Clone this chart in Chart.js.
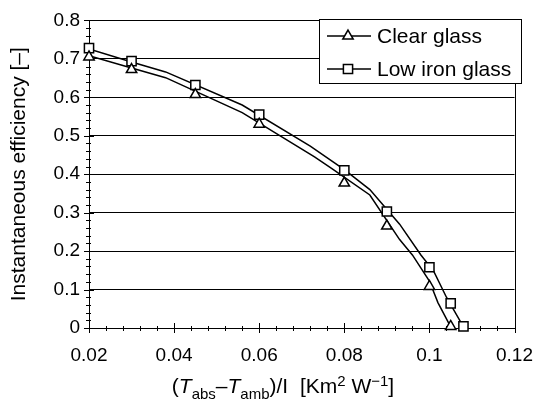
<!DOCTYPE html>
<html>
<head>
<meta charset="utf-8">
<script src="https://cdn.jsdelivr.net/npm/chart.js@4.4.1/dist/chart.umd.min.js"></script>
<style>
  html, body { margin: 0; padding: 0; background: #fff; }
</style>
</head>
<body>
<canvas id="effChart" width="549" height="401"></canvas>
<script>
// measured efficiencies (markers)
const clearX = [0.02, 0.03, 0.045, 0.06, 0.08, 0.09, 0.1, 0.105];
const clearEff = [0.705, 0.672, 0.607, 0.53, 0.377, 0.265, 0.108, 0.004];
const lowIronX = [0.02, 0.03, 0.045, 0.06, 0.08, 0.09, 0.1, 0.105, 0.108];
const lowIronEff = [0.728, 0.694, 0.632, 0.555, 0.41, 0.303, 0.158, 0.064, 0.004];

// efficiency curves (lines only)
const clearCurveX = [0.02, 0.03, 0.038, 0.056, 0.073, 0.077, 0.086, 0.093, 0.096, 0.1, 0.102, 0.105];
const clearCurveEff = [0.708, 0.676, 0.651, 0.56, 0.445, 0.415, 0.346, 0.23, 0.19, 0.122, 0.066, 0.003];
const lowIronCurveX = [0.02, 0.03, 0.038, 0.056, 0.072, 0.08, 0.086, 0.093, 0.098, 0.101, 0.104, 0.108];
const lowIronCurveEff = [0.726, 0.692, 0.666, 0.58, 0.473, 0.412, 0.36, 0.27, 0.19, 0.148, 0.08, 0.003];

const seriesNames = ['Clear glass', 'Low iron glass'];
const xTickValues = [0.02, 0.04, 0.06, 0.08, 0.1, 0.12];
const yTickValues = [0, 0.1, 0.2, 0.3, 0.4, 0.5, 0.6, 0.7, 0.8];
const yTitle = 'Instantaneous efficiency [\u2013]';
const xTitleParts = [
  { text: '(' }, { text: 'T', italic: true }, { text: 'abs', sub: true },
  { text: '\u2013' }, { text: 'T', italic: true }, { text: 'amb', sub: true },
  { text: ')/I  [Km' }, { text: '2', sup: true }, { text: ' W' },
  { text: '\u22121', sup: true }, { text: ']' }
];

const FONT = '"Liberation Sans", Arial, Helvetica, sans-serif';
Chart.defaults.font.family = FONT;
Chart.defaults.color = '#000';

function toXY(xs, ys) {
  return xs.map((x, i) => ({ x: x, y: ys[i] }));
}

// right frame line plus crossing major/minor ticks on both axes
const axisDecor = {
  id: 'axisDecor',
  beforeDatasetsDraw(chart) {
    const { ctx, chartArea: a, scales: { x, y } } = chart;
    ctx.save();
    ctx.strokeStyle = '#000';
    ctx.lineWidth = 1;
    ctx.beginPath();
    ctx.moveTo(Math.round(a.right) + 0.5, a.top);
    ctx.lineTo(Math.round(a.right) + 0.5, a.bottom);
    // y ticks every 0.02, long ones on the labelled values
    for (let i = 0; i <= 40; i++) {
      const py = Math.round(y.getPixelForValue(i * 0.02)) + 0.5;
      const major = i % 5 === 0;
      ctx.moveTo(a.left - (major ? 5 : 3), py);
      ctx.lineTo(a.left + (major ? 5 : 2), py);
    }
    // x ticks every 0.004
    for (let i = 0; i <= 25; i++) {
      const px = Math.round(x.getPixelForValue(0.02 + i * 0.004)) + 0.5;
      const major = i % 5 === 0;
      ctx.moveTo(px, a.bottom - (major ? 5 : 2));
      ctx.lineTo(px, a.bottom + (major ? 5 : 3));
    }
    ctx.stroke();
    ctx.restore();
  }
};

// boxed legend inside the plot, and the x axis title with sub/superscripts
const legendAndTitle = {
  id: 'legendAndTitle',
  afterDraw(chart) {
    const { ctx } = chart;
    ctx.save();

    const box = { left: 319, top: 19, width: 202, height: 64 };
    ctx.fillStyle = '#fff';
    ctx.fillRect(box.left, box.top, box.width, box.height);
    ctx.strokeStyle = '#000';
    ctx.lineWidth = 1;
    ctx.strokeRect(box.left + 0.5, box.top + 0.5, box.width, box.height);

    const styles = [chart.data.datasets[0], chart.data.datasets[1]];
    styles.forEach((ds, i) => {
      const yy = box.top + 17 + i * 33;
      ctx.strokeStyle = '#000';
      ctx.lineWidth = 1.5;
      ctx.beginPath();
      ctx.moveTo(box.left + 8, yy);
      ctx.lineTo(box.left + 52, yy);
      ctx.stroke();
      ctx.fillStyle = '#fff';
      ctx.strokeStyle = '#000';
      ctx.lineWidth = ds.pointBorderWidth;
      Chart.helpers.drawPoint(ctx, {
        pointStyle: ds.pointStyle, radius: ds.pointRadius, rotation: 0,
        borderWidth: ds.pointBorderWidth
      }, box.left + 29, yy);
      ctx.fillStyle = '#000';
      ctx.font = '21px ' + FONT;
      ctx.textBaseline = 'middle';
      ctx.textAlign = 'left';
      ctx.fillText(seriesNames[i], box.left + 58, yy + 1);
    });

    // x title
    const base = 21, small = 15;
    const fontFor = p => (p.italic ? 'italic ' : '') + (p.sub || p.sup ? small : base) + 'px ' + FONT;
    let total = 0;
    xTitleParts.forEach(p => { ctx.font = fontFor(p); total += ctx.measureText(p.text).width; });
    const centerX = 283, baseline = 393;
    let cx = centerX - total / 2;
    ctx.fillStyle = '#000';
    ctx.textBaseline = 'alphabetic';
    ctx.textAlign = 'left';
    xTitleParts.forEach(p => {
      ctx.font = fontFor(p);
      const dy = p.sub ? 6 : (p.sup ? -7 : 0);
      ctx.fillText(p.text, cx, baseline + dy);
      cx += ctx.measureText(p.text).width;
    });
    ctx.restore();
  }
};

const markerStyle = {
  showLine: false, pointBackgroundColor: '#fff', pointBorderColor: '#000',
  pointBorderWidth: 1.5, clip: false, order: 0
};
const curveStyle = {
  showLine: true, pointRadius: 0, borderColor: '#000', borderWidth: 1.5,
  fill: false, order: 1
};

new Chart(document.getElementById('effChart'), {
  type: 'scatter',
  data: {
    datasets: [
      Object.assign({ label: seriesNames[0], data: toXY(clearX, clearEff), pointStyle: 'triangle', pointRadius: 6 }, markerStyle),
      Object.assign({ label: seriesNames[1], data: toXY(lowIronX, lowIronEff), pointStyle: 'rect', pointRadius: 6.5 }, markerStyle),
      Object.assign({ label: seriesNames[0], data: toXY(clearCurveX, clearCurveEff) }, curveStyle),
      Object.assign({ label: seriesNames[1], data: toXY(lowIronCurveX, lowIronCurveEff) }, curveStyle)
    ]
  },
  options: {
    responsive: false,
    animation: false,
    events: [],
    layout: { padding: { top: 14, right: 22, left: 0, bottom: 0 } },
    plugins: { legend: { display: false }, tooltip: { enabled: false } },
    scales: {
      x: {
        type: 'linear', min: 0.02, max: 0.12,
        afterBuildTicks: s => { s.ticks = xTickValues.map(v => ({ value: v })); },
        afterFit: s => { s.height = 73; },
        ticks: { padding: 16, font: { size: 19 }, color: '#000', maxRotation: 0, autoSkip: false, callback: v => String(v) },
        grid: { display: false, drawTicks: false },
        border: { display: true, color: '#000', width: 1 }
      },
      y: {
        type: 'linear', min: 0, max: 0.8,
        afterBuildTicks: s => { s.ticks = yTickValues.map(v => ({ value: v })); },
        afterFit: s => { s.width = 89; },
        ticks: { padding: 9, font: { size: 19 }, color: '#000', autoSkip: false, callback: v => String(v) },
        grid: { color: '#000', lineWidth: 1, drawTicks: false },
        border: { display: true, color: '#000', width: 1 },
        title: { display: true, text: yTitle, font: { size: 21 }, color: '#000', padding: { top: 7, bottom: 0 } }
      }
    }
  },
  plugins: [axisDecor, legendAndTitle]
});
</script>
</body>
</html>
